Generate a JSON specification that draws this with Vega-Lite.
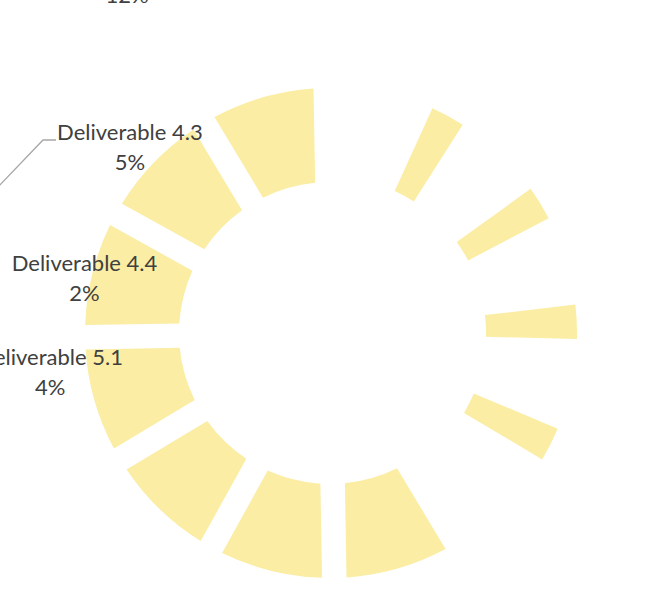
{
  "$schema": "https://vega.github.io/schema/vega-lite/v6.json",
  "width": 660,
  "height": 518,
  "autosize": {"type": "none"},
  "padding": {"left": 0, "top": 74, "right": 6, "bottom": 0},
  "background": "white",
  "config": {"view": {"stroke": null}},
  "datasets": {
    "thick": [
      {"segment": "G", "start": 149, "end": 179},
      {"segment": "F", "start": 179, "end": 209},
      {"segment": "E", "start": 209, "end": 239},
      {"segment": "D", "start": 239, "end": 269},
      {"segment": "C", "start": 269, "end": 299},
      {"segment": "B", "start": 299, "end": 329},
      {"segment": "A", "start": 329, "end": 359}
    ],
    "thin": [
      {"segment": "R1", "start": 24.5, "end": 32.5},
      {"segment": "R2", "start": 54.3, "end": 62.3},
      {"segment": "R3", "start": 83.4, "end": 91.4},
      {"segment": "R4", "start": 112.8, "end": 120.8}
    ],
    "leader": [
      {"i": 0, "px": 56, "py": 140},
      {"i": 1, "px": 43, "py": 140},
      {"i": 2, "px": -2, "py": 187}
    ]
  },
  "layer": [
    {
      "data": {"name": "thick"},
      "mark": {"type": "arc", "radius": 245, "radius2": 151, "padAngle": 0.085, "color": "#fbeda4"},
      "encoding": {
        "theta": {"field": "start", "type": "quantitative", "stack": null, "scale": {"domain": [0, 360], "range": [0, 6.283185]}},
        "theta2": {"field": "end"}
      }
    },
    {
      "data": {"name": "thin"},
      "mark": {"type": "arc", "radius": 247, "radius2": 156, "color": "#fbeda4"},
      "encoding": {
        "theta": {"field": "start", "type": "quantitative", "stack": null},
        "theta2": {"field": "end"}
      }
    },
    {
      "data": {"name": "leader"},
      "mark": {"type": "line", "color": "#a6a6a6", "strokeWidth": 1.3},
      "encoding": {
        "x": {"field": "px", "type": "quantitative", "axis": null, "scale": {"domain": [0, 660], "nice": false, "zero": false}},
        "y": {"field": "py", "type": "quantitative", "axis": null, "scale": {"domain": [592, 74], "nice": false, "zero": false}},
        "order": {"field": "i"}
      }
    },
    {
      "data": {"values": [{"label": "Deliverable 4.3\n5%", "angle": 315}]},
      "mark": {"type": "text", "radius": 283, "font": "Lato", "fontSize": 22, "color": "#404040", "lineBreak": "\n", "lineHeight": 30, "align": "center", "baseline": "middle"},
      "encoding": {
        "theta": {"field": "angle", "type": "quantitative", "stack": null},
        "text": {"field": "label"}
      }
    },
    {
      "data": {"values": [{"label": "Deliverable 4.4\n2%", "angle": 285.7}]},
      "mark": {"type": "text", "radius": 255, "font": "Lato", "fontSize": 22, "color": "#404040", "lineBreak": "\n", "lineHeight": 30, "align": "center", "baseline": "middle"},
      "encoding": {
        "theta": {"field": "angle", "type": "quantitative", "stack": null},
        "text": {"field": "label"}
      }
    },
    {
      "data": {"values": [{"label": "Deliverable 5.1\n4%", "angle": 264.9}]},
      "mark": {"type": "text", "radius": 281, "font": "Lato", "fontSize": 22, "color": "#404040", "lineBreak": "\n", "lineHeight": 30, "align": "center", "baseline": "middle"},
      "encoding": {
        "theta": {"field": "angle", "type": "quantitative", "stack": null},
        "text": {"field": "label"}
      }
    },
    {
      "data": {"values": [{"label": "12%", "angle": 328.9}]},
      "mark": {"type": "text", "radius": 393, "font": "Lato", "fontSize": 22, "color": "#404040", "align": "center", "baseline": "middle"},
      "encoding": {
        "theta": {"field": "angle", "type": "quantitative", "stack": null},
        "text": {"field": "label"}
      }
    }
  ]
}
